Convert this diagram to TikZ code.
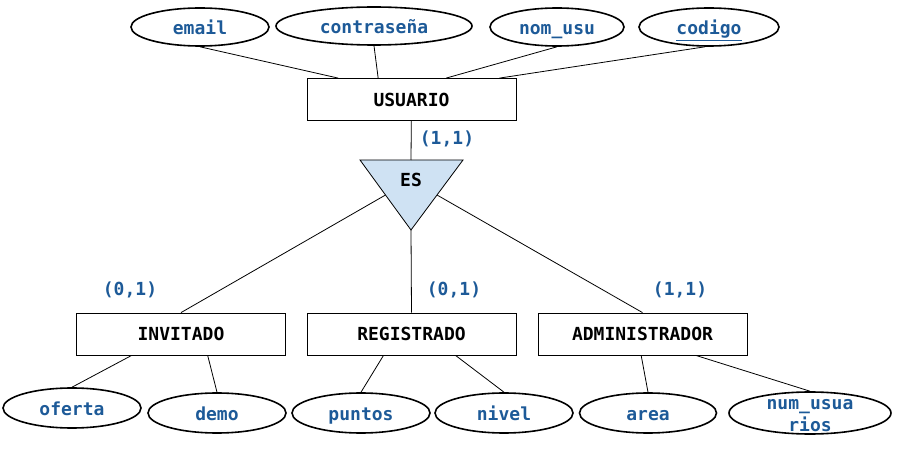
\documentclass[tikz,border=0pt]{standalone}
\usepackage{fontspec}
\setmonofont{DejaVu Sans Mono}
\definecolor{attrblue}{HTML}{1D5A98}
\definecolor{esfill}{HTML}{CFE2F3}
\tikzset{
  entity/.style={draw, rectangle, minimum width=209*0.75pt, minimum height=42*0.75pt, inner sep=0pt, text=black},
  attr/.style={draw, line width=1.2pt, ellipse, inner sep=0pt, text=attrblue, text height=12pt, text depth=0.5pt},
  card/.style={text=attrblue},
}
\usetikzlibrary{shapes.geometric}
\begin{document}
\begin{tikzpicture}[x=0.75pt, y=-0.75pt, every node/.style={font=\ttfamily\bfseries\fontsize{13.5}{16}\selectfont}, every path/.style={line width=0.6pt}]
			\useasboundingbox (0,0) rectangle (900,449);
			\node[attr, minimum width=138*0.75pt, minimum height=38*0.75pt] (email) at (200,27) {email};
			\node[attr, minimum width=196*0.75pt, minimum height=38*0.75pt] (pass) at (374,26) {contraseña};
			\node[attr, minimum width=134*0.75pt, minimum height=38*0.75pt] (nomusu) at (557,27) {nom\_usu};
			\node[attr, minimum width=140*0.75pt, minimum height=38*0.75pt] (codigo) at (709,27) {\underline{codigo}};
			\node[entity] (usuario) at (411.5,99.5) {USUARIO};
			\draw (email.south) to ([xshift=-55pt]usuario.north);
			\draw (pass.south) to ([xshift=-25pt]usuario.north);
			\draw (nomusu.south) to ([xshift=26pt]usuario.north);
			\draw ([xshift=-3pt]codigo.south) to ([xshift=66pt]usuario.north);
			% jerarquia
			\draw[fill=esfill] (360,160) -- (411,230) coordinate[pos=.5] (esl) coordinate (esa) -- (463,160) coordinate[pos=.5] (esr) -- cycle;
			\node (es) at (411,180) {ES};
			\node[card] (c1) at (447,139) {(1,1)};
			\draw (usuario) to (411,160);
			\node[entity] (invitado) at (181,334) {INVITADO};
			\node[entity] (registrado) at (411.5,334) {REGISTRADO};
			\node[entity] (admin) at (642.5,334) {ADMINISTRADOR};
			\node[card] (c2) at (130,290) {(0,1)};
			\node[card] (c3) at (454,290) {(0,1)};
			\node[card] (c4) at (680,290) {(1,1)};
			\draw (esl) to (invitado.north);
			\draw (esa) to (registrado.north);
			\draw (esr) to (admin.north);
			% atributos
			\node[attr, minimum width=138*0.75pt, minimum height=40*0.75pt] (oferta) at (72,408) {oferta};
			\node[attr, minimum width=138*0.75pt, minimum height=40*0.75pt] (demo) at (217,413) {demo};
			\node[attr, minimum width=138*0.75pt, minimum height=40*0.75pt] (puntos) at (361,413) {puntos};
			\node[attr, minimum width=138*0.75pt, minimum height=40*0.75pt] (nivel) at (504,413) {nivel};
			\node[attr, minimum width=137*0.75pt, minimum height=40*0.75pt] (area) at (648,413) {area};
			\node[attr, text height=, text depth=, minimum width=162*0.75pt, minimum height=42*0.75pt] (numusu) at (810,413) {\raisebox{-6pt}[0pt][0pt]{\begin{tabular}{@{}c@{}}num\_usua\\[0.8pt]rios\end{tabular}}};
			\draw ([xshift=-37pt]invitado.south) to (oferta.north);
			\draw ([xshift=20pt]invitado.south) to (demo.north);
			\draw ([xshift=-21pt]registrado.south) to (puntos.north);
			\draw ([xshift=33pt]registrado.south) to (nivel.north);
			\draw ([xshift=-1pt]admin.south) to (area.north);
			\draw ([xshift=40pt]admin.south) to (numusu.north);
			\end{tikzpicture}
\end{document}
